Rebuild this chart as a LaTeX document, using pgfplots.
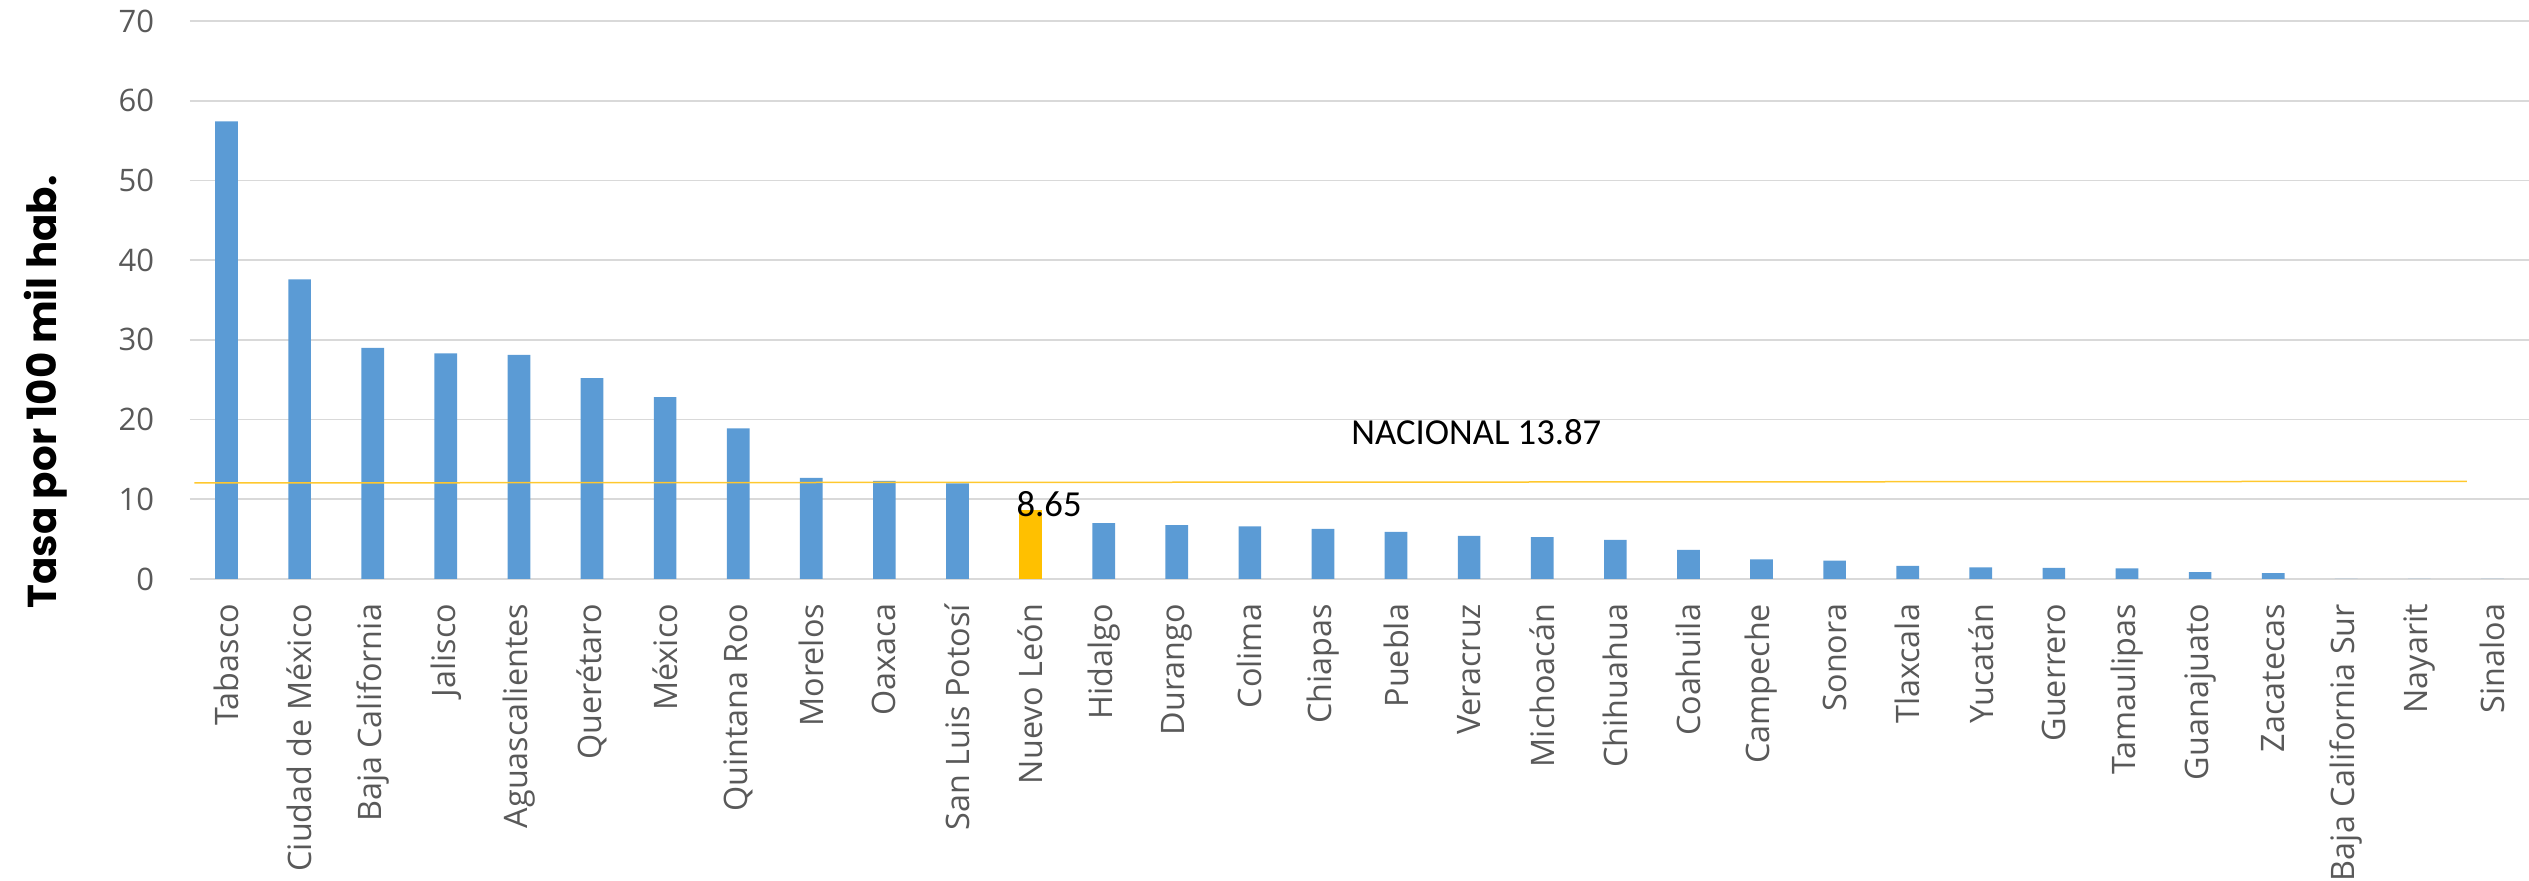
\documentclass[border=0pt]{standalone}
\usepackage{fontspec}
\setmainfont{Open Sans}
\newfontfamily\calibri{Carlito}
\newfontfamily\gothic{Poppins}
\usepackage{pgfplots}
\usepackage{pgfplotstable}
\pgfplotsset{compat=1.18}
\definecolor{barblue}{HTML}{5B9BD5}
\definecolor{gold}{HTML}{FFC000}
\definecolor{natline}{HTML}{FFC82E}
\definecolor{gridgray}{HTML}{D9D9D9}
\definecolor{ticktext}{HTML}{595959}

\pgfplotstableread{
x y
0 57.4
1 37.6
2 29.0
3 28.3
4 28.1
5 25.2
6 22.8
7 18.9
8 12.7
9 12.3
10 12.0
12 7.0
13 6.75
14 6.6
15 6.3
16 5.9
17 5.4
18 5.25
19 4.9
20 3.65
21 2.45
22 2.3
23 1.65
24 1.45
25 1.38
26 1.33
27 0.85
28 0.75
29 0
30 0
31 0
}\blue

\begin{document}
\begin{tikzpicture}
\path[use as bounding box] (-57pt,-90.6pt) rectangle (701.7pt,173.7pt);
\begin{axis}[
  scale only axis,
  width=701.7pt, height=167.4pt,
  xmin=-0.5, xmax=31.5,
  ymin=0, ymax=70,
  ytick={0,10,...,70},
  xtick={0,...,31},
  xticklabels={Tabasco,Ciudad de México,Baja California,Jalisco,Aguascalientes,Querétaro,México,Quintana Roo,Morelos,Oaxaca,San Luis Potosí,Nuevo León,Hidalgo,Durango,Colima,Chiapas,Puebla,Veracruz,Michoacán,Chihuahua,Coahuila,Campeche,Sonora,Tlaxcala,Yucatán,Guerrero,Tamaulipas,Guanajuato,Zacatecas,Baja California Sur,Nayarit,Sinaloa},
  major tick length=0pt,
  axis line style={draw=none},
  ymajorgrids=true, xmajorgrids=false,
  grid style={gridgray, line width=0.5pt},
  /pgf/number format/assume math mode=true,
  yticklabel style={font=\fontsize{9.3}{11}\selectfont, text=ticktext, anchor=east, inner sep=0pt, xshift=-10.6pt},
  xticklabel style={font=\fontsize{9.7}{11.5}\selectfont, text=ticktext, rotate=90, anchor=east, inner xsep=7.3pt, inner ysep=0pt},
  ylabel={Tasa por 100 mil hab.},
  ylabel style={at={(axis description cs:-0.0522,0.335)}, anchor=south, rotate=0, inner sep=0pt, font=\gothic\bfseries\fontsize{12.1}{14}\selectfont},
  clip=false,
]
\addplot[ybar, bar width=0.31, bar shift=0pt, fill=barblue, draw=none] table[x=x,y=y] {\blue};
\addplot[ybar, bar width=0.31, bar shift=0pt, fill=gold, draw=none] coordinates {(11,8.65)};
\addplot[natline, line width=0.45pt, mark=none] coordinates {(-0.44,12.05) (30.65,12.25)};
\node[anchor=west, inner sep=0pt, font=\calibri\fontsize{11}{13}\selectfont] at (axis cs:15.38,18.4) {NACIONAL 13.87};
\node[anchor=west, inner sep=0pt, font=\calibri\fontsize{11}{13}\selectfont] at (axis cs:10.8,9.35) {8.65};
\end{axis}
\end{tikzpicture}
\end{document}
